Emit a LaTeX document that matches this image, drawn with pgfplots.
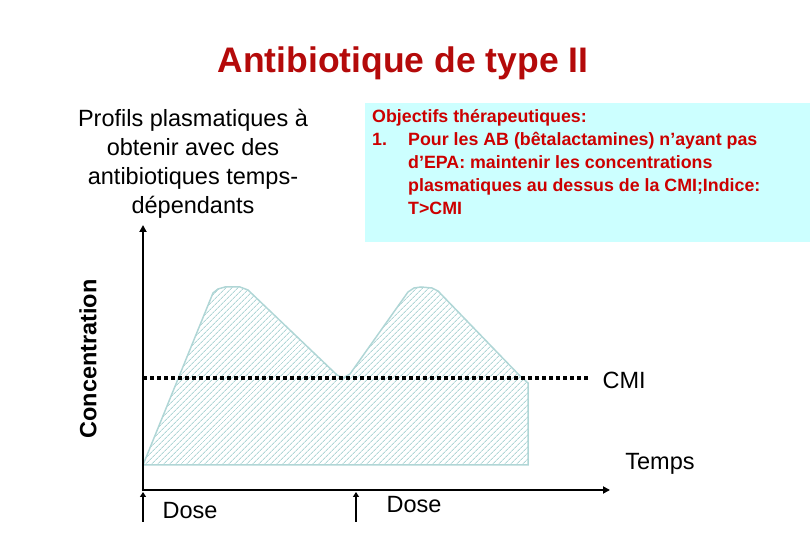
\documentclass[border=0pt]{standalone}
\usepackage{pgfplots}
\pgfplotsset{compat=1.18}
\usepackage{fontspec}
\setmainfont{Liberation Sans}
\usetikzlibrary{patterns.meta,arrows.meta}
\definecolor{titlered}{HTML}{B40A0A}
\definecolor{boxred}{HTML}{CC0000}
\definecolor{boxcyan}{HTML}{CCFFFF}
\definecolor{curvecol}{HTML}{B0D6D6}
\begin{document}
\begin{tikzpicture}
\path[use as bounding box] (0,0) rectangle (810pt,540pt);
\begin{axis}[at={(0,0)},anchor=south west,x=1pt,y=1pt,
  xmin=-143,xmax=667,ymin=-50,ymax=490,hide axis,clip=false]
% concentration profile (two doses)
\addplot[draw=curvecol,line width=1.5pt,
  pattern={Lines[angle=45,distance=4pt,line width=1pt]},pattern color=curvecol]
  coordinates {(0,25) (70,197) (75,201) (82,203) (97,203) (105,200)
   (194,115) (200,112) (207,116) (265,198) (271,202) (278,203) (289,202)
   (295,199) (377,114) (385,107) (385,25)} -- cycle;
% CMI line
\addplot[black,line width=4.2pt,dash pattern=on 4.2pt off 2.8pt] coordinates {(0,112) (447,112)};
% axes
\draw[black,line width=2.6pt,-{Triangle[length=7pt,width=7pt]}] (axis cs:0,-1.3) -- (axis cs:0,265);
\draw[black,line width=2.6pt,-{Triangle[length=7pt,width=7pt]}] (axis cs:-1.3,0) -- (axis cs:467,0);
% dose arrows
\draw[black,line width=2pt,-{Triangle[length=5pt,width=6pt]}] (axis cs:0,-32) -- (axis cs:0,-2);
\draw[black,line width=2pt,-{Triangle[length=5pt,width=6pt]}] (axis cs:213,-32) -- (axis cs:213,-2);
% info box
\fill[boxcyan] (axis cs:222,387) rectangle (axis cs:667,248);
\node[anchor=north west,inner sep=0pt,text=boxred,font=\bfseries\fontsize{17.8}{23}\selectfont,align=left]
  at (axis cs:229,384) {\begin{tabular}{@{}l@{}l@{}}
  \multicolumn{2}{@{}l}{Objectifs thérapeutiques:}\\
  \makebox[36pt][l]{1.} & Pour les AB (bêtalactamines) n’ayant pas\\
  & d’EPA: maintenir les concentrations\\
  & plasmatiques au dessus de la CMI;Indice:\\
  & T>CMI
  \end{tabular}};
% texts
\node[text=titlered,font=\bfseries\fontsize{35.5}{40}\selectfont] at (axis cs:260,427) {Antibiotique de type II};
\node[align=center,font=\fontsize{23.5}{29}\selectfont] at (axis cs:50,326)
  {Profils plasmatiques à\\obtenir avec des\\antibiotiques temps-\\dépendants};
\node[rotate=90,font=\bfseries\fontsize{23.5}{26}\selectfont] at (axis cs:-55,131) {Concentration};
\node[anchor=west,font=\fontsize{23.5}{28}\selectfont] at (axis cs:456,110) {CMI};
\node[font=\fontsize{23.5}{28}\selectfont] at (axis cs:517,26) {Temps};
\node[anchor=west,font=\fontsize{23.5}{28}\selectfont] at (axis cs:16,-21) {Dose};
\node[anchor=west,font=\fontsize{23.5}{28}\selectfont] at (axis cs:240,-15) {Dose};
\end{axis}
\end{tikzpicture}
\end{document}
